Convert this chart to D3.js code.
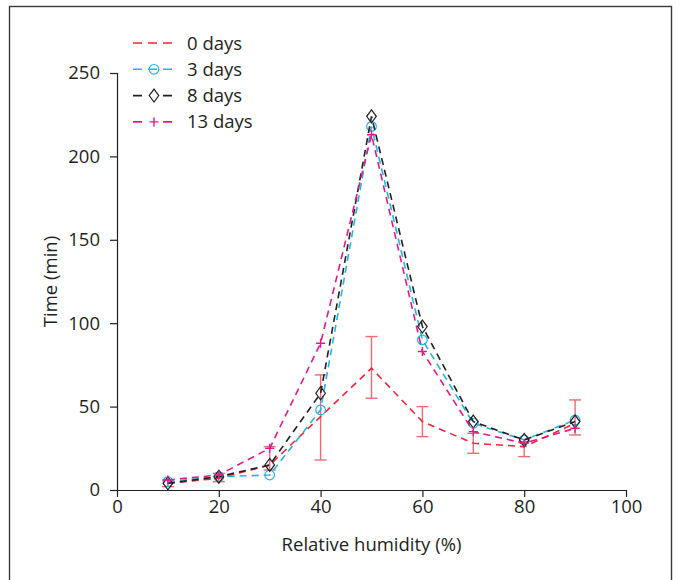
<!DOCTYPE html>
<html>
<head>
<meta charset="utf-8">
<script src="https://cdn.jsdelivr.net/npm/d3@7"></script>
<style>
  body { margin: 0; background: #fff; }
  svg text { font-family: "Open Sans", "Noto Sans", sans-serif; fill: #231f20; }
</style>
</head>
<body>
<div id="chart"></div>
<script>
/* CONSTANTS AND GLOBALS */
const width = 679,
  height = 580,
  margin = {top: 73, bottom: 90, left: 117, right: 53};

const fontSize = "18.5px";

// humidity levels (x)
const humidity = [10, 20, 30, 40, 50, 60, 70, 80, 90];

// series values
const days0  = [4, 7, 15, 44, 73, 41, 28, 26, 40];
const days3  = [5, 8, 9, 48, 218, 90, 40, 30, 42];
const days8  = [4, 8, 15, 58, 224, 98, 41, 30, 41];
const days13 = [6, 9, 25, 88, 213, 83, 35, 28, 37];

// error bars for 0 days (low / high)
const err0Low  = [2, 5, 12, 18, 55, 32, 22, 20, 33];
const err0High = [6, 10, 26, 69, 92, 50, 34, 29, 54];

const xTicks = [0, 20, 40, 60, 80, 100];
const yTicks = [0, 50, 100, 150, 200, 250];

const series = [
  {name: "0 days",  values: days0,  color: "#ed2739", marker: "none"},
  {name: "3 days",  values: days3,  color: "#20b5e8", marker: "circle"},
  {name: "8 days",  values: days8,  color: "#231f20", marker: "diamond"},
  {name: "13 days", values: days13, color: "#e6198b", marker: "plus"}
];

const svg = d3.select("#chart")
  .append("svg")
  .attr("width", width)
  .attr("height", height);

// page frame
svg.append("rect")
  .attr("x", 9.5).attr("y", 6.5)
  .attr("width", 662).attr("height", 600)
  .attr("fill", "none")
  .attr("stroke", "#3a3a3a")
  .attr("stroke-width", 1.4);

/* SCALES */
const xScale = d3.scaleLinear()
  .domain([0, 100])
  .range([margin.left, width - margin.right]);

const yScale = d3.scaleLinear()
  .domain([0, 250])
  .range([height - margin.bottom, margin.top]);

/* AXES */
const xAxisGroup = svg.append("g")
  .attr("transform", `translate(0, ${yScale(0)})`)
  .call(d3.axisBottom(xScale).tickValues(xTicks).tickSizeOuter(0).tickSize(7).tickPadding(3));

const yAxisGroup = svg.append("g")
  .attr("transform", `translate(${xScale(0)}, 0)`)
  .call(d3.axisLeft(yScale).tickValues(yTicks).tickSizeOuter(0).tickSize(7).tickPadding(10));

[xAxisGroup, yAxisGroup].forEach(g => {
  g.select(".domain").attr("stroke", "#231f20").attr("stroke-width", 1.2);
  g.selectAll(".tick line").attr("stroke", "#231f20").attr("stroke-width", 1.2);
  g.selectAll(".tick text")
    .style("font-size", fontSize)
    .style("font-family", "'Open Sans', sans-serif")
    .attr("fill", "#231f20");
});
// x axis continues a little to the left of the y axis
xAxisGroup.select(".domain").attr("d", `M${xScale(0) - 7},0.5H${xScale(100)}`);

//ADD LABELS
svg.append("text")
  .attr("x", (xScale(0) + xScale(100)) / 2)
  .attr("y", 551)
  .attr("text-anchor", "middle")
  .style("font-size", fontSize)
  .text("Relative humidity (%)");

svg.append("text")
  .attr("transform", `translate(57, ${yScale(125)}) rotate(-90)`)
  .attr("text-anchor", "middle")
  .style("font-size", fontSize)
  .text("Time (min)");

/* ERROR BARS (0 days) */
const errG = svg.append("g").attr("stroke", "#f06a73").attr("stroke-width", 1.4);
humidity.forEach((h, i) => {
  const x = xScale(h);
  errG.append("line")
    .attr("x1", x).attr("x2", x)
    .attr("y1", yScale(err0Low[i])).attr("y2", yScale(err0High[i]));
  [err0Low[i], err0High[i]].forEach(v => {
    errG.append("line")
      .attr("x1", x - 6).attr("x2", x + 6)
      .attr("y1", yScale(v)).attr("y2", yScale(v));
  });
});

/* LINES */
const lineGen = d3.line()
  .x((d, i) => xScale(humidity[i]))
  .y(d => yScale(d));

function drawMarker(g, type, x, y, color) {
  if (type === "circle") {
    g.append("circle")
      .attr("cx", x).attr("cy", y).attr("r", 4.8)
      .attr("fill", "none").attr("stroke", color).attr("stroke-width", 1.2);
  } else if (type === "diamond") {
    g.append("path")
      .attr("d", `M${x},${y - 6.5}L${x + 4.8},${y}L${x},${y + 6.5}L${x - 4.8},${y}Z`)
      .attr("fill", "none").attr("stroke", color).attr("stroke-width", 1.2);
  } else if (type === "plus") {
    g.append("path")
      .attr("d", `M${x - 4.5},${y}H${x + 4.5}M${x},${y - 4.5}V${y + 4.5}`)
      .attr("fill", "none").attr("stroke", color).attr("stroke-width", 1.4);
  }
}

series.forEach(s => {
  svg.append("path")
    .datum(s.values)
    .attr("d", lineGen)
    .attr("fill", "none")
    .attr("stroke", s.color)
    .attr("stroke-width", 1.6)
    .attr("stroke-dasharray", "7,5");
  const g = svg.append("g");
  s.values.forEach((v, i) => drawMarker(g, s.marker, xScale(humidity[i]), yScale(v), s.color));
});

/* LEGEND */
const legend = svg.append("g");
series.forEach((s, i) => {
  const y = 43 + i * 26.3;
  legend.append("line")
    .attr("x1", 133).attr("x2", 173)
    .attr("y1", y).attr("y2", y)
    .attr("stroke", s.color)
    .attr("stroke-width", 1.6)
    .attr("stroke-dasharray", "9,6");
  if (s.marker !== "none") {
    if (s.marker !== "circle") {
      // marker sits in the gap
      legend.append("rect")
        .attr("x", 147).attr("y", y - 7).attr("width", 14).attr("height", 14)
        .attr("fill", "#fff");
    }
    drawMarker(legend, s.marker, 154, y, s.color);
  }
  legend.append("text")
    .attr("x", 187)
    .attr("y", y + 6.5)
    .style("font-size", fontSize)
    .text(s.name);
});
</script>
</body>
</html>
